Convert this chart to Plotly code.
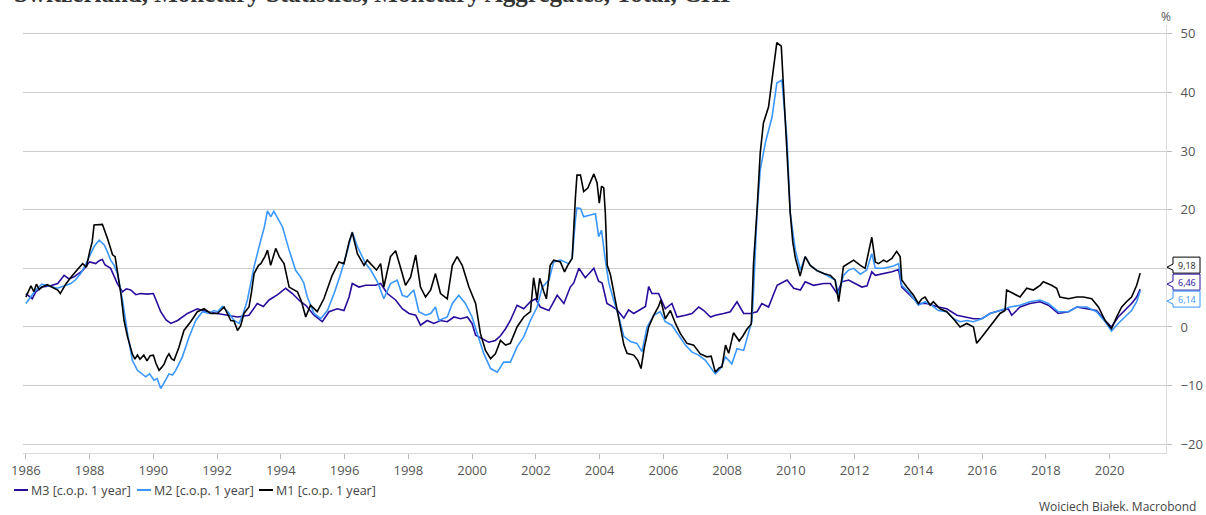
import plotly.graph_objects as go

# ---------------- data (decimal year, % change over 1 year) ----------------
m1 = [(1986.00, 5.1), (1986.08, 6.2), (1986.16, 7.0), (1986.25, 6.0), (1986.33, 7.3), (1986.42, 6.4),
      (1986.50, 6.8), (1986.67, 7.2), (1986.83, 6.8), (1987.00, 6.3), (1987.08, 5.7), (1987.25, 7.3),
      (1987.42, 8.5), (1987.50, 9.1), (1987.62, 9.8), (1987.78, 10.8), (1987.90, 10.2), (1988.00, 12.8),
      (1988.08, 14.5), (1988.14, 17.4), (1988.40, 17.5), (1988.56, 15.1), (1988.72, 12.3), (1988.80, 12.0),
      (1988.87, 9.7), (1988.98, 5.7), (1989.08, 1.1), (1989.19, -1.7), (1989.34, -4.6), (1989.42, -5.5),
      (1989.50, -4.8), (1989.58, -5.5), (1989.70, -4.8), (1989.80, -5.8), (1989.90, -4.9), (1990.00, -4.8),
      (1990.08, -6.2), (1990.18, -7.4), (1990.26, -6.9), (1990.34, -6.3), (1990.42, -5.2), (1990.49, -4.6),
      (1990.57, -5.4), (1990.65, -5.7), (1990.80, -3.5), (1990.96, -0.6), (1991.17, 0.9), (1991.38, 2.6),
      (1991.59, 3.1), (1991.80, 2.3), (1992.01, 2.3), (1992.22, 3.4), (1992.43, 1.1), (1992.53, 1.0),
      (1992.64, -0.6), (1992.74, 0.2), (1992.84, 2.3), (1993.00, 3.4), (1993.08, 6.0), (1993.16, 9.1),
      (1993.30, 10.5), (1993.37, 10.8), (1993.50, 12.0), (1993.58, 13.1), (1993.68, 10.5), (1993.84, 13.4),
      (1993.95, 12.0), (1994.10, 10.8), (1994.26, 6.8), (1994.52, 6.0), (1994.65, 4.3), (1994.78, 1.7),
      (1994.93, 3.7), (1995.14, 2.6), (1995.35, 4.8), (1995.61, 8.8), (1995.82, 11.1), (1995.98, 10.8),
      (1996.14, 14.5), (1996.24, 16.1), (1996.40, 12.5), (1996.61, 10.5), (1996.71, 11.4), (1997.00, 9.7),
      (1997.13, 10.8), (1997.23, 6.8), (1997.44, 12.0), (1997.60, 13.0), (1997.76, 10.0), (1997.91, 7.1),
      (1998.07, 8.5), (1998.23, 12.3), (1998.38, 6.8), (1998.54, 5.1), (1998.70, 6.3), (1998.85, 9.1),
      (1999.01, 5.7), (1999.22, 4.8), (1999.38, 10.5), (1999.53, 12.0), (1999.69, 10.5), (1999.90, 6.8),
      (2000.11, 4.0), (2000.26, -1.1), (2000.42, -4.0), (2000.58, -5.4), (2000.73, -4.6), (2000.89, -2.3),
      (2001.05, -3.1), (2001.20, -2.8), (2001.41, 0.0), (2001.62, 1.7), (2001.83, 2.6), (2001.93, 8.4),
      (2002.04, 4.6), (2002.12, 8.3), (2002.25, 6.0), (2002.33, 4.8), (2002.45, 10.5), (2002.56, 11.4),
      (2002.77, 11.1), (2002.90, 9.4), (2003.00, 10.5), (2003.14, 11.7), (2003.24, 22.0), (2003.29, 25.9),
      (2003.40, 25.9), (2003.50, 23.1), (2003.63, 23.7), (2003.71, 24.6), (2003.82, 26.1), (2003.92, 24.6),
      (2003.99, 21.1), (2004.06, 24.0), (2004.13, 23.7), (2004.18, 19.4), (2004.24, 10.5), (2004.34, 8.9),
      (2004.44, 5.8), (2004.60, 1.5), (2004.76, -3.0), (2004.86, -4.5), (2005.07, -4.8), (2005.20, -5.7),
      (2005.30, -7.1), (2005.40, -3.6), (2005.54, 0.0), (2005.70, 2.0), (2005.85, 3.5), (2005.92, 4.6),
      (2006.06, 1.4), (2006.22, 2.8), (2006.38, 0.6), (2006.53, -1.1), (2006.74, -2.8), (2006.95, -3.1),
      (2007.16, -4.6), (2007.37, -5.1), (2007.50, -5.0), (2007.63, -7.7), (2007.75, -7.0), (2007.84, -6.8),
      (2007.95, -3.1), (2008.05, -4.5), (2008.20, -1.0), (2008.38, -2.4), (2008.50, -1.5), (2008.62, -0.4),
      (2008.76, 0.5), (2008.83, 10.9), (2008.94, 20.0), (2009.04, 29.7), (2009.14, 34.8), (2009.30, 37.5),
      (2009.45, 43.9), (2009.56, 48.5), (2009.70, 47.9), (2009.85, 33.6), (2009.98, 19.5), (2010.06, 14.5),
      (2010.14, 11.8), (2010.29, 8.7), (2010.45, 12.0), (2010.61, 10.5), (2010.82, 9.6), (2011.03, 9.1),
      (2011.24, 8.8), (2011.39, 8.0), (2011.50, 4.3), (2011.65, 10.3), (2011.81, 10.8), (2011.97, 11.4),
      (2012.18, 10.5), (2012.33, 10.0), (2012.44, 12.8), (2012.54, 15.3), (2012.65, 11.1), (2012.75, 10.8),
      (2012.91, 11.4), (2013.01, 11.1), (2013.17, 11.7), (2013.32, 12.9), (2013.43, 12.0), (2013.48, 8.0),
      (2013.64, 6.8), (2013.85, 5.4), (2014.00, 4.0), (2014.11, 4.8), (2014.21, 5.1), (2014.37, 3.7),
      (2014.47, 4.3), (2014.68, 3.1), (2014.89, 2.6), (2015.10, 1.4), (2015.31, 0.0), (2015.52, 0.6),
      (2015.73, 0.0), (2015.83, -2.8), (2015.99, -1.7), (2016.15, -0.6), (2016.35, 0.9), (2016.56, 2.3),
      (2016.72, 2.8), (2016.77, 6.3), (2016.98, 5.7), (2017.19, 5.1), (2017.40, 6.6), (2017.61, 6.3),
      (2017.82, 7.1), (2017.92, 7.7), (2018.18, 7.1), (2018.34, 6.6), (2018.44, 5.1), (2018.71, 4.8),
      (2018.97, 5.1), (2019.18, 5.1), (2019.44, 4.8), (2019.65, 3.4), (2019.86, 1.1), (2020.06, -0.3),
      (2020.22, 1.7), (2020.38, 3.4), (2020.53, 4.3), (2020.69, 5.1), (2020.85, 7.1), (2020.96, 9.18)]

m2 = [(1986.00, 4.0), (1986.16, 5.3), (1986.31, 6.3), (1986.50, 7.3), (1986.63, 7.1), (1986.80, 6.8),
      (1986.99, 6.6), (1987.20, 7.0), (1987.41, 7.4), (1987.55, 8.0), (1987.72, 9.1), (1987.86, 10.5),
      (1988.00, 12.0), (1988.15, 13.8), (1988.30, 14.8), (1988.46, 14.0), (1988.56, 12.8), (1988.66, 11.4),
      (1988.77, 10.5), (1988.87, 9.1), (1988.95, 7.0), (1989.03, 4.6), (1989.19, -1.1), (1989.34, -5.7),
      (1989.50, -7.4), (1989.62, -7.9), (1989.76, -8.5), (1989.88, -8.0), (1990.02, -9.1), (1990.12, -8.8),
      (1990.23, -10.5), (1990.34, -9.5), (1990.49, -8.0), (1990.60, -8.2), (1990.70, -7.4), (1990.91, -5.1),
      (1991.12, -1.7), (1991.33, 1.1), (1991.54, 2.6), (1991.75, 2.3), (1991.90, 2.8), (1992.01, 2.6),
      (1992.17, 3.5), (1992.35, 2.5), (1992.53, 1.1), (1992.69, 0.6), (1992.82, 2.3), (1992.95, 4.6),
      (1993.16, 10.3), (1993.37, 14.8), (1993.48, 17.0), (1993.58, 19.8), (1993.68, 18.8), (1993.78, 19.7),
      (1993.90, 18.5), (1994.05, 17.1), (1994.26, 13.1), (1994.46, 9.7), (1994.62, 8.5), (1994.72, 7.5),
      (1994.83, 5.1), (1995.04, 2.3), (1995.25, 1.4), (1995.46, 2.8), (1995.67, 5.7), (1995.88, 9.1),
      (1996.08, 12.8), (1996.24, 16.2), (1996.40, 13.7), (1996.66, 10.8), (1996.82, 9.7), (1997.03, 7.7),
      (1997.23, 4.8), (1997.44, 7.4), (1997.65, 8.0), (1997.81, 5.4), (1997.96, 5.1), (1998.17, 6.3),
      (1998.33, 2.6), (1998.54, 2.0), (1998.70, 2.3), (1998.85, 3.4), (1998.96, 1.1), (1999.22, 1.7),
      (1999.38, 4.0), (1999.58, 5.4), (1999.79, 4.0), (2000.00, 1.7), (2000.16, -1.1), (2000.37, -4.6),
      (2000.58, -7.1), (2000.79, -7.7), (2000.99, -6.0), (2001.20, -6.0), (2001.41, -3.4), (2001.62, -1.7),
      (2001.83, 1.1), (2002.04, 3.4), (2002.20, 6.8), (2002.41, 8.0), (2002.56, 11.1), (2002.77, 11.4),
      (2003.03, 10.8), (2003.14, 11.7), (2003.24, 18.2), (2003.29, 20.3), (2003.40, 20.2), (2003.50, 18.8),
      (2003.71, 19.1), (2003.87, 19.3), (2003.97, 15.4), (2004.06, 16.5), (2004.18, 11.4), (2004.29, 7.5),
      (2004.44, 4.6), (2004.60, 1.8), (2004.76, -1.6), (2004.97, -2.5), (2005.17, -2.8), (2005.33, -4.2),
      (2005.49, 0.0), (2005.70, 2.0), (2005.90, 2.6), (2006.06, 0.9), (2006.27, 0.3), (2006.48, -1.4),
      (2006.69, -3.1), (2006.90, -4.3), (2007.11, -4.8), (2007.32, -5.7), (2007.48, -6.8), (2007.63, -8.0),
      (2007.79, -7.1), (2007.95, -5.1), (2008.15, -6.3), (2008.31, -3.7), (2008.52, -4.0), (2008.68, -0.6),
      (2008.78, 1.1), (2008.83, 6.0), (2008.94, 19.5), (2009.04, 26.8), (2009.20, 31.4), (2009.41, 35.8),
      (2009.56, 41.6), (2009.72, 42.1), (2009.88, 31.9), (2009.98, 19.5), (2010.14, 13.1), (2010.30, 9.7),
      (2010.45, 12.0), (2010.61, 10.5), (2010.82, 9.6), (2011.03, 9.1), (2011.24, 8.5), (2011.39, 8.0),
      (2011.50, 5.4), (2011.65, 8.8), (2011.81, 9.7), (2011.97, 10.0), (2012.18, 9.0), (2012.38, 9.7),
      (2012.54, 12.5), (2012.65, 10.0), (2012.91, 10.0), (2013.22, 10.4), (2013.38, 10.8), (2013.48, 7.1),
      (2013.74, 5.7), (2014.00, 3.7), (2014.21, 4.3), (2014.42, 3.7), (2014.63, 2.8), (2014.89, 2.6),
      (2015.10, 1.4), (2015.31, 0.9), (2015.52, 1.1), (2015.73, 0.9), (2015.99, 1.4), (2016.25, 2.3),
      (2016.56, 2.8), (2016.88, 3.4), (2017.19, 3.7), (2017.50, 4.3), (2017.82, 4.6), (2018.08, 4.0),
      (2018.39, 2.6), (2018.71, 2.6), (2018.97, 3.4), (2019.28, 3.4), (2019.59, 2.6), (2019.86, 0.9),
      (2020.06, -0.7), (2020.27, 0.6), (2020.48, 1.7), (2020.69, 2.8), (2020.85, 4.3), (2020.96, 6.14)]

m3 = [(1986.00, 5.7), (1986.10, 5.2), (1986.20, 4.8), (1986.31, 6.0), (1986.50, 6.8), (1986.75, 7.0),
      (1987.00, 7.4), (1987.20, 8.8), (1987.35, 8.2), (1987.50, 8.5), (1987.78, 9.6), (1988.00, 11.1),
      (1988.19, 10.8), (1988.30, 11.3), (1988.40, 11.5), (1988.48, 10.6), (1988.56, 10.3), (1988.66, 10.0),
      (1988.87, 7.4), (1989.03, 6.0), (1989.15, 6.5), (1989.29, 6.3), (1989.45, 5.5), (1989.60, 5.7),
      (1989.80, 5.6), (1990.00, 5.7), (1990.23, 2.6), (1990.40, 1.2), (1990.55, 0.6), (1990.76, 1.1),
      (1991.07, 2.3), (1991.38, 3.1), (1991.69, 2.6), (1992.01, 2.3), (1992.32, 2.0), (1992.64, 1.7),
      (1993.00, 2.0), (1993.26, 4.0), (1993.45, 3.5), (1993.63, 4.6), (1993.90, 5.5), (1994.15, 6.6),
      (1994.36, 5.7), (1994.62, 4.3), (1994.78, 3.7), (1995.04, 2.0), (1995.30, 0.9), (1995.51, 2.6),
      (1995.77, 3.1), (1995.98, 2.8), (1996.14, 5.1), (1996.24, 7.4), (1996.45, 6.8), (1996.66, 7.1),
      (1996.97, 7.1), (1997.13, 7.4), (1997.34, 5.7), (1997.60, 4.6), (1997.81, 3.1), (1998.02, 2.3),
      (1998.23, 2.0), (1998.38, 0.3), (1998.59, 1.1), (1998.80, 0.6), (1999.01, 1.1), (1999.22, 0.9),
      (1999.43, 1.7), (1999.64, 1.4), (1999.85, 1.7), (2000.00, 0.6), (2000.11, -1.4), (2000.32, -2.0),
      (2000.52, -2.6), (2000.73, -2.3), (2000.89, -1.5), (2001.05, -0.3), (2001.20, 1.1), (2001.41, 3.7),
      (2001.62, 3.1), (2001.83, 4.3), (2001.99, 4.8), (2002.14, 3.4), (2002.41, 2.8), (2002.67, 5.4),
      (2002.88, 4.0), (2003.08, 6.8), (2003.19, 7.5), (2003.35, 10.0), (2003.55, 8.4), (2003.82, 10.0),
      (2003.97, 7.8), (2004.08, 7.5), (2004.23, 4.0), (2004.39, 3.5), (2004.55, 2.9), (2004.76, 1.5),
      (2004.91, 2.9), (2005.07, 2.3), (2005.28, 2.9), (2005.44, 3.5), (2005.54, 6.9), (2005.64, 5.7),
      (2005.85, 5.7), (2006.06, 3.1), (2006.27, 4.0), (2006.43, 1.7), (2006.69, 2.0), (2006.90, 2.3),
      (2007.11, 3.4), (2007.27, 2.8), (2007.48, 1.7), (2007.63, 2.0), (2007.89, 2.3), (2008.10, 2.6),
      (2008.31, 4.3), (2008.52, 2.3), (2008.73, 2.3), (2008.94, 2.6), (2009.09, 4.0), (2009.30, 3.4),
      (2009.57, 7.1), (2009.88, 8.0), (2010.09, 6.6), (2010.30, 6.3), (2010.45, 7.7), (2010.71, 7.1),
      (2011.03, 7.4), (2011.24, 7.4), (2011.45, 5.7), (2011.60, 7.7), (2011.81, 8.0), (2012.02, 7.4),
      (2012.23, 6.8), (2012.39, 7.0), (2012.49, 8.6), (2012.54, 9.4), (2012.65, 8.8), (2012.91, 9.1),
      (2013.17, 9.4), (2013.38, 9.8), (2013.48, 6.8), (2013.74, 5.4), (2014.00, 4.0), (2014.26, 4.0),
      (2014.42, 3.7), (2014.63, 3.4), (2014.89, 3.1), (2015.21, 2.0), (2015.47, 1.7), (2015.73, 1.4),
      (2015.99, 1.4), (2016.25, 2.3), (2016.56, 2.8), (2016.82, 3.1), (2016.93, 2.0), (2017.19, 3.4),
      (2017.50, 4.0), (2017.82, 4.3), (2018.08, 3.7), (2018.39, 2.3), (2018.71, 2.6), (2018.97, 3.4),
      (2019.28, 3.1), (2019.59, 2.8), (2019.86, 1.1), (2020.06, 0.0), (2020.27, 1.7), (2020.48, 2.8),
      (2020.69, 4.0), (2020.85, 5.1), (2020.96, 6.46)]

series_names = ["M3 [c.o.p. 1 year]", "M2 [c.o.p. 1 year]", "M1 [c.o.p. 1 year]"]
series_data = [m3, m2, m1]
series_colors = ["#2a0c9c", "#3a97ff", "#000000"]
end_labels = ["6,46", "6,14", "9,18"]

title_text = "Switzerland, Monetary Statistics, Monetary Aggregates, Total, CHF"
credit_text = "Woiciech Białek. Macrobond"
x_ticks = list(range(1986, 2021, 2))
y_ticks = [-20, -10, 0, 10, 20, 30, 40, 50]
# the "10" label sits under the end-value boxes in the reference, so it is not shown
y_ticktext = ["−20", "−10", "0", "", "20", "30", "40", "50"]

# ---------------- layout geometry ----------------
W, H = 1206, 515
L, R, T, B = 23, 1166, 25, 453   # plot area in pixels
YMIN, YMAX = -21.5, 51.5
XMIN, XMAX = 1985.91, 2021.77


def px(X):
    return (X - L) / (R - L)


def py(Y):
    return (B - Y) / (B - T)


def ypix(v):
    return B - (v - YMIN) * (B - T) / (YMAX - YMIN)


fig = go.Figure()
for name, data, col in zip(series_names, series_data, series_colors):
    fig.add_trace(go.Scatter(
        x=[d[0] for d in data], y=[d[1] for d in data], mode="lines", name=name,
        line=dict(color=col, width=1.6), showlegend=False, hoverinfo="skip"))

tick_font = dict(family="Open Sans, sans-serif", size=13, color="#555555")
fig.update_layout(
    width=W, height=H, margin=dict(l=L, r=W - R, t=T, b=H - B, autoexpand=False),
    paper_bgcolor="white", plot_bgcolor="white",
    xaxis=dict(range=[XMIN, XMAX], tickmode="array", tickvals=x_ticks,
               ticktext=[str(t) for t in x_ticks], showgrid=False, zeroline=False,
               showline=True, linecolor="#d9d9d9", linewidth=1, automargin=False,
               ticks="outside", ticklen=5, tickcolor="#bbbbbb", tickfont=tick_font),
    yaxis=dict(range=[YMIN, YMAX], side="right", tickmode="array", tickvals=y_ticks,
               ticktext=y_ticktext,
               showgrid=True, gridcolor="#cccccc", gridwidth=1, zeroline=False,
               showline=True, linecolor="#dddddd", linewidth=1, automargin=False,
               ticks="outside", ticklen=5, tickcolor="#bbbbbb", tickfont=tick_font,
               ticklabelstandoff=6),
    hovermode=False,
)

annotations = []
shapes = []

# title (partly cut off at the top)
annotations.append(dict(text="<b>" + title_text + "</b>", xref="paper", yref="paper",
                        x=px(12), y=py(-6), xanchor="left", yanchor="middle", showarrow=False,
                        font=dict(family="Liberation Serif, serif", size=25, color="#333333")))
# unit
annotations.append(dict(text="%", xref="paper", yref="paper", x=px(R), y=py(16),
                        xanchor="center", yanchor="middle", showarrow=False,
                        font=dict(family="Open Sans, sans-serif", size=12, color="#555555")))
# credit
annotations.append(dict(text=credit_text, xref="paper", yref="paper", x=px(1198), y=py(506),
                        xanchor="right", yanchor="middle", showarrow=False,
                        font=dict(family="Open Sans, sans-serif", size=12, color="#444444")))

# manual legend
leg_x = [14, 137, 259]
for name, col, lx in zip(series_names, series_colors, leg_x):
    shapes.append(dict(type="line", xref="paper", yref="paper", x0=px(lx), x1=px(lx + 14),
                       y0=py(490), y1=py(490), line=dict(color=col, width=2)))
    annotations.append(dict(text=name, xref="paper", yref="paper", x=px(lx + 15), y=py(490),
                            xanchor="left", yanchor="middle", showarrow=False,
                            font=dict(family="Open Sans, sans-serif", size=12.5, color="#444444")))

# end-value labels, stacked from the highest last value downwards
order = sorted(range(3), key=lambda i: -series_data[i][-1][1])
c0 = ypix(series_data[order[0]][-1][1]) - 8
for k, i in enumerate(order):
    c = c0 + 17 * k
    col = series_colors[i]
    bx0, bx1, tip = 1173, 1200, 1167
    pts = [(bx0, c - 8), (bx1, c - 8), (bx1, c + 8), (bx0, c + 8), (bx0, c + 5), (tip, c + 2), (bx0, c - 1)]
    path = "M " + " L ".join(f"{px(X):.5f},{py(Y):.5f}" for X, Y in pts) + " Z"
    shapes.append(dict(type="path", xref="paper", yref="paper", path=path,
                       fillcolor="white", line=dict(color=col, width=1)))
    annotations.append(dict(text=end_labels[i], xref="paper", yref="paper", x=px((bx0 + bx1) / 2),
                            y=py(c), xanchor="center", yanchor="middle", showarrow=False,
                            font=dict(family="Open Sans, sans-serif", size=9,
                                      color=("#222222" if col == "#000000" else col))))

fig.update_layout(annotations=annotations, shapes=shapes)

fig.write_html("out.html", config={"displayModeBar": False},
               post_script="document.body.style.margin='0';document.body.style.overflow='hidden';")
